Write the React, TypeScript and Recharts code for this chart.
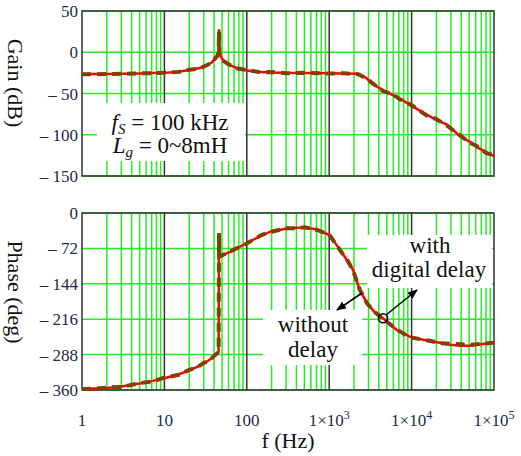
import { LineChart, Line, XAxis, YAxis, CartesianGrid, ReferenceArea, ReferenceDot } from 'recharts'

// frequency points (Hz)
const gainFreq = [1, 2, 3, 5, 7, 10, 15, 20, 27, 33, 38, 42, 44, 45.5, 46, 46.5, 48, 52, 60, 75, 100, 150, 200, 300, 500, 1000, 1500, 2240, 2800, 3400, 4500, 5930, 8000, 10000, 15400, 20000, 27000, 39000, 50000, 62000, 80000, 100000]
const gainWithDelay = [-26.5, -26.3, -26, -25.7, -25.3, -25, -23.5, -21.5, -19, -16, -12, -7, -4, 0, 28, -1, -5, -10, -15, -19, -22, -24, -24.5, -25, -25.3, -25.5, -25.7, -26, -31, -39, -46, -52, -59, -65, -76, -82, -88, -102, -108, -115, -121, -126]
const gainWithoutDelay = [-26.8, -26.5, -26.2, -25.5, -25.5, -24.8, -23.8, -21.2, -19.5, -15.5, -12.5, -6.5, -4.5, 0, 25, -1.5, -4.5, -10.5, -14.5, -19.5, -21.5, -24.5, -24, -25.5, -25, -25.8, -25.5, -26.5, -31.5, -38, -47, -51, -60, -64, -77, -81, -89, -101, -109, -114, -122, -125]

const phaseFreq = [1, 1.5, 2, 3, 5, 7, 10, 15, 20, 25, 30, 35, 40, 45.5, 46, 46.3, 63, 100, 150, 200, 300, 400, 500, 700, 1000, 1360, 1700, 1950, 2350, 2880, 3600, 4500, 6600, 9600, 16700, 22000, 29000, 40000, 51000, 70000, 100000]
const phaseWithDelay = [-358, -357, -356, -353, -347, -342, -336, -328, -320, -313, -306, -299, -292, -283, -41, -89, -79, -61, -46, -37, -32, -30, -30, -33, -45, -75, -100, -116, -157, -183, -203, -214, -238, -252, -261, -264, -268, -270, -270, -267, -264]
const phaseWithoutDelay = [-358, -357, -355, -354, -346, -343, -335, -329, -319, -314, -305, -300, -291, -283, -41, -89, -78, -62, -45, -38, -31, -31, -29, -34, -44, -76, -99, -117, -156, -184, -202, -215, -237, -253, -260, -265, -266, -267, -268, -266, -264]

const gainTicks = [-150, -100, -50, 0, 50]
const phaseTicks = [-360, -288, -216, -144, -72, 0]
const decadeTicks = [1, 10, 100, 1000, 10000, 100000]
const decadeLines = [10, 100, 1000, 10000]
const minorLines = [1, 10, 100, 1000, 10000].flatMap((d) => [2, 3, 4, 5, 6, 7, 8, 9].map((m) => m * d))

const gainData = gainFreq.map((f, i) => ({ f, withDelay: gainWithDelay[i], withoutDelay: gainWithoutDelay[i] }))
const phaseData = phaseFreq.map((f, i) => ({ f, withDelay: phaseWithDelay[i], withoutDelay: phaseWithoutDelay[i] }))

const FONT = "'Liberation Serif', 'Times New Roman', Tinos, 'DejaVu Serif', serif"
const TICK_COLOR = '#1a2a4a'
const GREEN = '#22ee22'
const RED = '#ff0000'
const BROWN = '#804000'

const fmtY = (v: number) => (v < 0 ? `– ${-v}` : `${v}`)

function XTick({ x, y, payload }: any) {
  const v = payload.value as number
  const exp = Math.round(Math.log10(v))
  return (
    <text x={x} y={y + 34} textAnchor="middle" fill={TICK_COLOR} fontSize={17} style={{ fontFamily: FONT }}>
      {exp < 3 ? (
        String(v)
      ) : (
        <>
          1×10
          <tspan dy={-7} fontSize={12}>{exp}</tspan>
        </>
      )}
    </text>
  )
}

function Plot({ data, ticks, domain, top, height, marginTop, marginBottom, showX, circle }: any) {
  return (
    <div style={{ position: 'absolute', left: 0, top, width: 521, height }}>
      <LineChart width={521} height={height} data={data} margin={{ top: marginTop, right: 27, bottom: marginBottom, left: 10 }}>
        <CartesianGrid stroke={GREEN} strokeWidth={1.5} verticalValues={minorLines} horizontalValues={ticks} />
        <CartesianGrid stroke="#333" strokeWidth={1.5} horizontal={false} verticalValues={decadeLines} />
        <XAxis
          dataKey="f"
          type="number"
          scale="log"
          domain={[1, 100000]}
          ticks={decadeTicks}
          allowDataOverflow
          hide={!showX}
          height={30}
          axisLine={false}
          tickLine={false}
          tickSize={0}
          tick={<XTick />}
          interval={0}
        />
        <YAxis
          type="number"
          domain={domain}
          ticks={ticks}
          width={72}
          interval={0}
          axisLine={false}
          tickLine={false}
          tickSize={0}
          tickMargin={4}
          tickFormatter={fmtY}
          tick={{ fill: TICK_COLOR, fontSize: 17, style: { fontFamily: FONT } }}
        />
        <ReferenceArea x1={1} x2={100000} y1={domain[0]} y2={domain[1]} fill="none" stroke="#333" strokeWidth={1.5} />
        <Line dataKey="withDelay" type="linear" stroke={RED} strokeWidth={2.5} dot={false} isAnimationActive={false} />
        <Line dataKey="withoutDelay" type="linear" stroke={BROWN} strokeWidth={4} strokeDasharray="9 6" dot={false} isAnimationActive={false} />
        {circle && <ReferenceDot x={circle[0]} y={circle[1]} r={4.5} fill="none" stroke="#000" strokeWidth={1.6} />}
      </LineChart>
    </div>
  )
}

export default function App() {
  const txt = { style: { fontFamily: FONT }, fill: '#111' }
  return (
    <div style={{ position: 'absolute', left: 0, top: 0, width: 521, height: 456, background: '#fff', fontFamily: FONT }}>
      <Plot data={gainData} ticks={gainTicks} domain={[-150, 50]} top={0} height={200} marginTop={11} marginBottom={24} showX={false} />
      <Plot data={phaseData} ticks={phaseTicks} domain={[-360, 0]} top={200} height={256} marginTop={13} marginBottom={36} showX circle={[4500, -214]} />
      <svg width={521} height={456} style={{ position: 'absolute', left: 0, top: 0, pointerEvents: 'none' }}>
        <defs>
          <marker id="ah" markerWidth="10" markerHeight="8" refX="9" refY="4" orient="auto" markerUnits="userSpaceOnUse">
            <path d="M0,0 L10,4 L0,8 Z" fill="#000" />
          </marker>
        </defs>
        <text transform="translate(15,83) rotate(90)" textAnchor="middle" dominantBaseline="central" fontSize={22} {...txt}>Gain (dB)</text>
        <text transform="translate(15,292) rotate(90)" textAnchor="middle" dominantBaseline="central" fontSize={22} {...txt}>Phase (deg)</text>
        <text x={288} y={448} textAnchor="middle" fontSize={22} {...txt}>f (Hz)</text>

        <rect x={97} y={103} width={148} height={58} fill="#fff" />
        <text x={170} y={130} textAnchor="middle" fontSize={23} {...txt}>
          <tspan fontStyle="italic">f</tspan>
          <tspan fontStyle="italic" fontSize={15} dy={4}>S</tspan>
          <tspan dy={-4}> = 100 kHz</tspan>
        </text>
        <text x={170} y={153} textAnchor="middle" fontSize={23} {...txt}>
          <tspan fontStyle="italic">L</tspan>
          <tspan fontStyle="italic" fontSize={15} dy={4}>g</tspan>
          <tspan dy={-4}> = 0~8mH</tspan>
        </text>

        <rect x={263} y={310} width={99} height={55} fill="#fff" />
        <text x={313} y={332} textAnchor="middle" fontSize={23} {...txt}>without</text>
        <text x={313} y={357} textAnchor="middle" fontSize={23} {...txt}>delay</text>

        <rect x={367} y={235} width={125} height={53} fill="#fff" />
        <text x={430} y={253} textAnchor="middle" fontSize={23} {...txt}>with</text>
        <text x={429} y={277} textAnchor="middle" fontSize={23} {...txt}>digital delay</text>

        <line x1={362} y1={293} x2={337} y2={310} stroke="#000" strokeWidth={1.6} markerEnd="url(#ah)" />
        <line x1={386} y1={315} x2={417} y2={290} stroke="#000" strokeWidth={1.6} markerEnd="url(#ah)" />
      </svg>
    </div>
  )
}
